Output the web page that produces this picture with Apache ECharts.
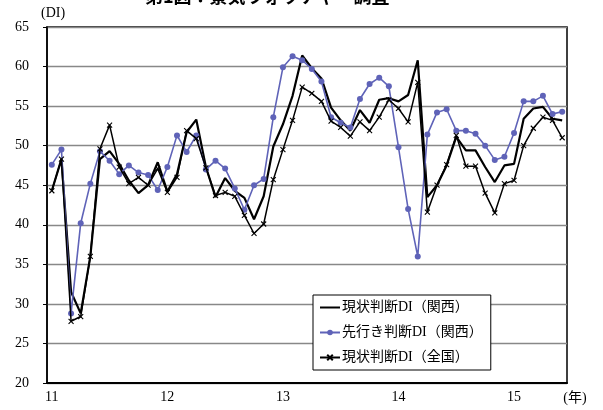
<!DOCTYPE html>
<html>
<head>
<meta charset="utf-8">
<script src="https://cdn.jsdelivr.net/npm/echarts@6/dist/echarts.min.js"></script>
<style>
  html, body { margin: 0; padding: 0; background: #fff; }
  #chart { width: 603px; height: 410px; }
</style>
</head>
<body>
<div id="chart"></div>
<script>
// months from 2011/1 to 2015/6
var years = ['11', '12', '13', '14', '15'];
var months = ['1', '2', '3', '4', '5', '6', '7', '8', '9', '10', '11', '12'];

// 現状判断DI（関西）
var kansaiCurrent = [
    44.3, 48.3, 31.5, 28.8, 36.0, 48.3, 49.3, 47.7, 45.6, 44.0, 45.0, 47.9,
    44.2, 46.4, 51.7, 53.3, 47.3, 43.5, 45.9, 44.3, 43.4, 40.7, 43.6, 49.9,
    52.7, 56.3, 61.4, 59.8, 58.5, 54.8, 53.2, 51.9, 54.5, 52.9, 55.8, 56.0,
    55.6, 56.4, 60.8, 43.5, 45.0, 47.5, 51.1, 49.4, 49.4, 47.3, 45.4, 47.5,
    47.7, 53.4, 54.7, 54.9, 53.4, 53.2
];
// 先行き判断DI（関西）
var kansaiOutlook = [
    47.6, 49.5, 28.8, 40.2, 45.2, 49.3, 48.1, 46.4, 47.5, 46.6, 46.3, 44.4,
    47.3, 51.3, 49.2, 51.3, 47.0, 48.1, 47.1, 44.6, 41.9, 45.0, 45.8, 53.6,
    59.9, 61.3, 60.8, 59.7, 58.1, 53.6, 52.9, 52.3, 55.9, 57.8, 58.6, 57.5,
    49.8, 42.0, 36.0, 51.4, 54.2, 54.6, 51.9, 51.9, 51.5, 50.0, 48.2, 48.6,
    51.6, 55.6, 55.6, 56.3, 54.0, 54.3
];
// 現状判断DI（全国）
var nationCurrent = [
    44.3, 48.3, 27.8, 28.4, 36.0, 49.6, 52.6, 47.3, 45.2, 46.0, 45.0, 47.1,
    44.1, 46.0, 51.9, 50.9, 47.2, 43.7, 44.1, 43.6, 41.2, 38.9, 40.1, 45.7,
    49.5, 53.2, 57.4, 56.6, 55.6, 53.1, 52.3, 51.2, 53.0, 51.9, 53.6, 55.8,
    54.7, 53.0, 58.0, 41.6, 45.0, 47.6, 51.3, 47.4, 47.4, 44.0, 41.5, 45.2,
    45.6, 50.0, 52.2, 53.6, 53.2, 51.0
];

var categories = [];
years.forEach(function (y) {
    months.forEach(function (m) {
        if (categories.length < kansaiCurrent.length) categories.push(y + '.' + m);
    });
});

var serifFont = '"Liberation Serif", "Noto Sans CJK JP", serif';

var myChart = echarts.init(document.getElementById('chart'));

var option = {
    animation: false,
    title: {
        text: '第1図：景気ウォッチャー調査',
        left: 140,
        top: -18,
        textStyle: { fontSize: 18, fontWeight: 'bold', color: '#000', fontFamily: '"Noto Sans CJK JP", sans-serif' }
    },
    legend: {
        orient: 'vertical',
        left: 313,
        top: 295,
        padding: [5, 8, 5, 6],
        itemGap: 10,
        itemWidth: 20,
        itemHeight: 7,
        backgroundColor: '#fff',
        borderColor: '#000',
        borderWidth: 1,
        borderRadius: 0,
        textStyle: { fontSize: 14, lineHeight: 15, color: '#000', fontFamily: serifFont, padding: [0, 0, 0, -3] },
        data: ['現状判断DI（関西）', '先行き判断DI（関西）', '現状判断DI（全国）']
    },
    grid: {
        left: 47,
        right: 36,
        top: 27,
        bottom: 27,
        show: true,
        borderColor: '#000',
        borderWidth: 1.5
    },
    xAxis: {
        type: 'category',
        data: categories,
        boundaryGap: true,
        name: '(年)',
        nameLocation: 'end',
        nameGap: 8,
        nameTextStyle: { fontSize: 14, color: '#000', fontFamily: serifFont, verticalAlign: 'top', align: 'center', padding: [8, 0, 0, 0] },
        axisLine: { lineStyle: { color: '#000', width: 2 } },
        axisTick: { show: false },
        axisLabel: {
            interval: function (index) { return index % 12 === 0; },
            formatter: function (v) { return v.split('.')[0]; },
            fontSize: 14,
            color: '#000',
            fontFamily: serifFont,
            margin: 7
        },
        splitLine: { show: false }
    },
    yAxis: {
        type: 'value',
        min: 20,
        max: 65,
        interval: 5,
        name: '(DI)',
        nameLocation: 'end',
        nameGap: 7,
        nameTextStyle: { fontSize: 14, color: '#000', fontFamily: serifFont, align: 'left', padding: [0, 0, 0, -6] },
        axisLine: { show: true, lineStyle: { color: '#000', width: 1.5 } },
        axisTick: { show: true, inside: false, length: 4, lineStyle: { color: '#000' } },
        axisLabel: { fontSize: 14, color: '#000', fontFamily: serifFont, margin: 18 },
        splitLine: { show: true, lineStyle: { color: '#888', width: 1.3 } }
    },
    series: [
        {
            name: '現状判断DI（関西）',
            type: 'line',
            data: kansaiCurrent,
            symbol: 'none',
            color: '#000',
            itemStyle: { color: '#000', opacity: 0 },
            lineStyle: { color: '#000', width: 2.2, opacity: 1 },
            z: 3
        },
        {
            name: '先行き判断DI（関西）',
            type: 'line',
            data: kansaiOutlook,
            symbol: 'circle',
            symbolSize: 6,
            showAllSymbol: true,
            color: '#5f63b8',
            itemStyle: { color: '#5f63b8' },
            lineStyle: { color: '#5f63b8', width: 1.6 },
            z: 4
        },
        {
            name: '現状判断DI（全国）',
            type: 'line',
            data: nationCurrent,
            symbol: 'path://M0,0 L10,10 M10,0 L0,10',
            symbolSize: 5,
            showAllSymbol: true,
            color: '#000',
            itemStyle: { color: '#000', borderColor: '#000', borderWidth: 1.1 },
            lineStyle: { color: '#000', width: 1.5 },
            z: 5
        }
    ]
};

myChart.setOption(option);
</script>
</body>
</html>
